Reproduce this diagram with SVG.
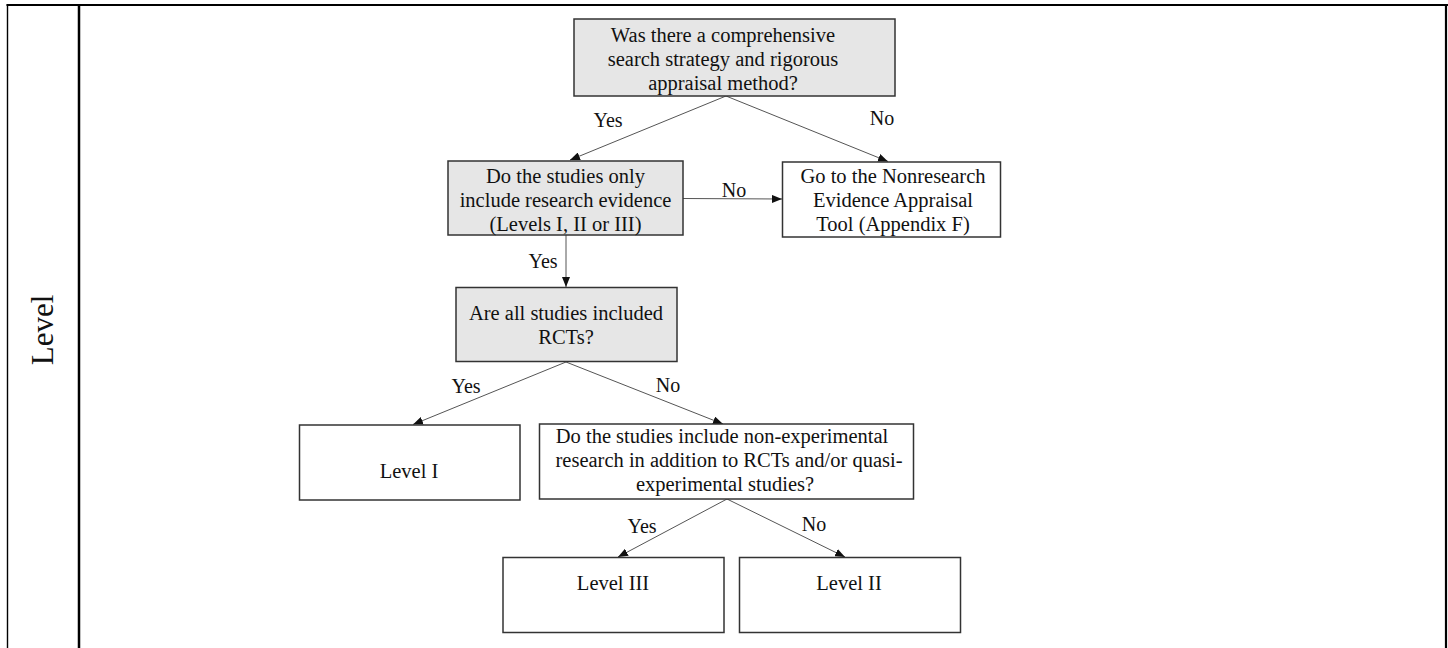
<svg xmlns="http://www.w3.org/2000/svg" width="1448" height="648" viewBox="0 0 1448 648">
<style>
.frame{stroke:#000;fill:none}
.box{stroke:#333;stroke-width:1.5}
.q{fill:#e6e6e6}
.w{fill:#fff}
.t{font-family:"Liberation Serif","Times New Roman",serif;font-size:20.5px;fill:#111;text-anchor:middle}
.lbl{font-family:"Liberation Serif","Times New Roman",serif;font-size:20px;fill:#111;text-anchor:middle}
.con{stroke:#555;stroke-width:1;fill:none;marker-end:url(#ah)}
</style>
<defs>
<marker id="ah" markerUnits="userSpaceOnUse" markerWidth="10" markerHeight="8" refX="10" refY="4" orient="auto">
<path d="M0,0 L10,4 L0,8 z" fill="#111"/>
</marker>
</defs>
<rect width="1448" height="648" fill="#fff"/>
<g id="frame">
<line class="frame" x1="6.5" y1="5" x2="1448" y2="5" stroke-width="2.2"/>
<line class="frame" x1="7.5" y1="4" x2="7.5" y2="648" stroke-width="1.4"/>
<line class="frame" x1="79" y1="5" x2="79" y2="648" stroke-width="2.5"/>
<line class="frame" x1="1446" y1="4" x2="1446" y2="648" stroke-width="2.2"/>
</g>
<g id="side-label">
<text transform="translate(53,330) rotate(-90)" x="0" y="0" font-family="Liberation Serif, Times New Roman, serif" font-size="31" text-anchor="middle" fill="#111">Level</text>
</g>
<g id="connectors">
<line class="con" x1="726" y1="96" x2="570" y2="160"/>
<line class="con" x1="726" y1="96" x2="888" y2="161.5"/>
<line class="con" x1="683" y1="198.5" x2="782" y2="199"/>
<line class="con" x1="566" y1="235" x2="566" y2="287"/>
<line class="con" x1="566" y1="362" x2="413" y2="424.5"/>
<line class="con" x1="566" y1="362" x2="723" y2="424"/>
<line class="con" x1="727" y1="499" x2="618" y2="557"/>
<line class="con" x1="727" y1="499" x2="845" y2="557"/>
<text class="lbl" x="608" y="127">Yes</text>
<text class="lbl" x="882" y="125">No</text>
<text class="lbl" x="734" y="197">No</text>
<text class="lbl" x="543" y="268">Yes</text>
<text class="lbl" x="466" y="393">Yes</text>
<text class="lbl" x="668" y="392">No</text>
<text class="lbl" x="642" y="533">Yes</text>
<text class="lbl" x="814" y="531">No</text>
</g>
<g id="n1">
<rect class="box q" x="574" y="19" width="321" height="77"/>
<text class="t" x="723" y="42">Was there a comprehensive</text>
<text class="t" x="723" y="66">search strategy and rigorous</text>
<text class="t" x="723" y="90">appraisal method?</text>
</g>
<g id="n2">
<rect class="box q" x="448" y="161" width="235" height="74"/>
<text class="t" x="565.5" y="183">Do the studies only</text>
<text class="t" x="565.5" y="207">include research evidence</text>
<text class="t" x="565.5" y="231">(Levels I, II or III)</text>
</g>
<g id="n3">
<rect class="box w" x="782.5" y="162" width="218" height="75"/>
<text class="t" x="893" y="183">Go to the Nonresearch</text>
<text class="t" x="893" y="207">Evidence Appraisal</text>
<text class="t" x="893" y="231">Tool (Appendix F)</text>
</g>
<g id="n4">
<rect class="box q" x="456" y="287.5" width="221" height="74"/>
<text class="t" x="566" y="320">Are all studies included</text>
<text class="t" x="566" y="344">RCTs?</text>
</g>
<g id="n5">
<rect class="box w" x="299.5" y="425" width="220.5" height="75"/>
<text class="t" x="409" y="478">Level I</text>
</g>
<g id="n6">
<rect class="box w" x="539.5" y="424" width="374" height="75"/>
<text class="t" x="722" y="443">Do the studies include non-experimental</text>
<text class="t" x="729" y="467">research in addition to RCTs and/or quasi-</text>
<text class="t" x="725" y="491">experimental studies?</text>
</g>
<g id="n7">
<rect class="box w" x="503" y="557.5" width="221" height="75"/>
<text class="t" x="613" y="590">Level III</text>
</g>
<g id="n8">
<rect class="box w" x="739.5" y="557.5" width="221" height="75"/>
<text class="t" x="849" y="590">Level II</text>
</g>
</svg>
